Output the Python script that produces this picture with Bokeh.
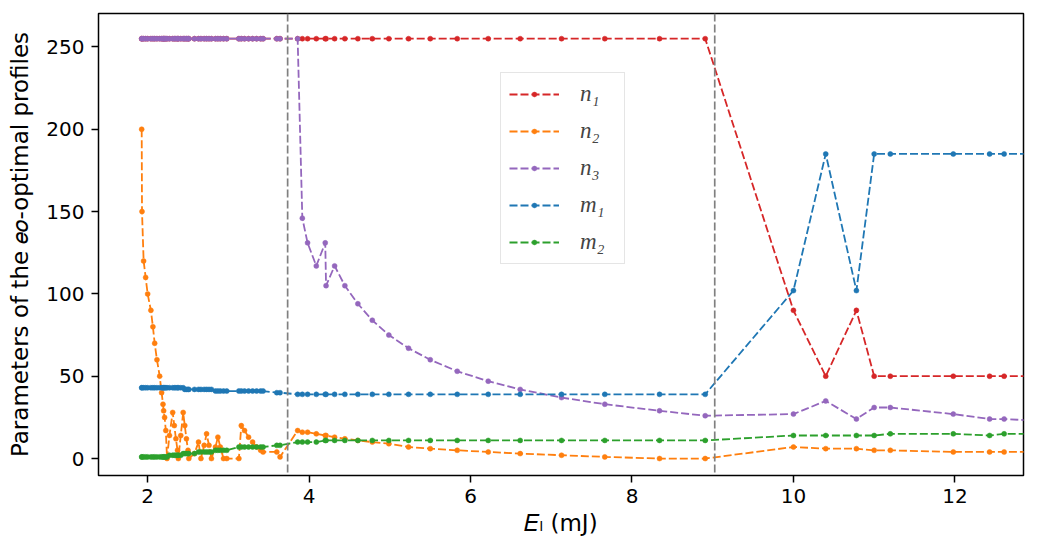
from bokeh.plotting import figure
from bokeh.models import Span, Legend, LegendItem, FixedTicker, Range1d
from bokeh.embed import file_html
from bokeh.resources import INLINE

# Laser pulse energy E_l (mJ) of each optimised profile
e_l = [
    1.926, 1.930, 1.950, 1.975, 2.000, 2.040, 2.065, 2.087, 2.115, 2.149,
    2.173, 2.190, 2.198, 2.210, 2.225, 2.240,
    2.27, 2.31, 2.33, 2.35, 2.37, 2.38, 2.41, 2.44, 2.46, 2.48, 2.50, 2.51,
    2.58, 2.63, 2.66, 2.70, 2.73, 2.76, 2.79, 2.84, 2.87, 2.90, 2.94, 2.98,
    3.13, 3.16, 3.20, 3.25, 3.30, 3.35, 3.40, 3.43,
    3.60, 3.64,
    3.858, 3.916, 3.981, 4.089, 4.200, 4.210, 4.316, 4.443, 4.604, 4.783,
    4.988, 5.232, 5.501, 5.835, 6.219, 6.615, 7.127, 7.663, 8.341, 8.907,
    10.0, 10.4, 10.78, 11.0, 11.2, 11.98, 12.43, 12.61, 13.0,
]

n1 = [
    255, 255, 255, 255, 255, 255, 255, 255, 255, 255,
    255, 255, 255, 255, 255, 255,
    255, 255, 255, 255, 255, 255, 255, 255, 255, 255, 255, 255,
    255, 255, 255, 255, 255, 255, 255, 255, 255, 255, 255, 255,
    255, 255, 255, 255, 255, 255, 255, 255,
    255, 255,
    255, 255, 255, 255, 255, 255, 255, 255, 255, 255,
    255, 255, 255, 255, 255, 255, 255, 255, 255, 255,
    90, 50, 90, 50, 50, 50, 50, 50, 50,
]

n2 = [
    200, 150, 120, 110, 100, 90, 80, 70, 60, 50,
    40, 33, 29, 25, 17, 0,
    14, 28, 20, 12, 5, 0, 14, 28, 20, 12, 5, 0,
    3, 10, 0, 8, 15, 8, 0, 7, 13, 7, 0, 0,
    0, 20, 17, 13, 10, 7, 5, 4,
    4, 1,
    17, 16, 16, 15, 14, 14, 13, 12, 11, 10,
    9, 7, 6, 5, 4, 3, 2, 1, 0, 0,
    7, 6, 6, 5, 5, 4, 4, 4, 4,
]

n3 = [
    255, 255, 255, 255, 255, 255, 255, 255, 255, 255,
    255, 255, 255, 255, 255, 255,
    255, 255, 255, 255, 255, 255, 255, 255, 255, 255, 255, 255,
    255, 255, 255, 255, 255, 255, 255, 255, 255, 255, 255, 255,
    255, 255, 255, 255, 255, 255, 255, 255,
    255, 255,
    255, 146, 131, 117, 131, 105, 117, 105, 94, 84,
    75, 67, 60, 53, 47, 42, 37, 33, 29, 26,
    27, 35, 24, 31, 31, 27, 24, 24, 23,
]

m1 = [
    43, 43, 43, 43, 43, 43, 43, 43, 43, 43,
    43, 43, 43, 43, 43, 43,
    43, 43, 43, 43, 43, 43, 43, 43, 42, 42, 42, 42,
    42, 42, 42, 42, 42, 42, 42, 41, 41, 41, 41, 41,
    41, 41, 41, 41, 41, 41, 41, 41,
    40, 40,
    39, 39, 39, 39, 39, 39, 39, 39, 39, 39,
    39, 39, 39, 39, 39, 39, 39, 39, 39, 39,
    102, 185, 102, 185, 185, 185, 185, 185, 185,
]

m2 = [
    1, 1, 1, 1, 1, 1, 1, 1, 1, 1,
    1, 1, 1, 1, 1, 1,
    2, 2, 2, 2, 2, 2, 2, 3, 3, 3, 3, 3,
    3, 4, 4, 4, 4, 4, 4, 5, 5, 5, 5, 5,
    7, 7, 7, 7, 7, 7, 7, 7,
    8, 8,
    10, 10, 10, 10, 11, 11, 11, 11, 11, 11,
    11, 11, 11, 11, 11, 11, 11, 11, 11, 11,
    14, 14, 14, 14, 15, 15, 14, 15, 15,
]

# Regime boundaries (mJ)
boundaries = [3.734, 9.025]

series = [
    ("n\u2081", n1, "#d62728"),
    ("n\u2082", n2, "#ff7f0e"),
    ("n\u2083", n3, "#9467bd"),
    ("m\u2081", m1, "#1f77b4"),
    ("m\u2082", m2, "#2ca02c"),
]

x_ticks = [2, 4, 6, 8, 10, 12]
y_ticks = [0, 50, 100, 150, 200, 250]

# axis titles; E, l and eo use the mathematical italic letters
x_title = "\U0001D438\u2097 (mJ)"
y_title = "Parameters of the \U0001D452\U0001D45C-optimal profiles"

LEFT, RIGHT, TOP, BOTTOM = 98, 1023, 13, 475
W, H = 1037, 552

p = figure(
    width=W, height=H,
    output_backend="svg", toolbar_location=None,
    x_range=Range1d(1.391, 12.85), y_range=Range1d(-10.3, 270.3),
    min_border_left=LEFT, min_border_right=W - RIGHT,
    min_border_top=TOP, min_border_bottom=H - BOTTOM,
)
p.background_fill_color = "white"
p.border_fill_color = "white"
p.grid.grid_line_color = None
p.outline_line_color = "black"
p.outline_line_width = 1.5
p.outline_line_alpha = 1.0

for ax in (p.xaxis[0], p.yaxis[0]):
    ax.axis_line_color = None
    ax.major_tick_line_color = "black"
    ax.major_tick_line_width = 1.5
    ax.major_tick_out = 7
    ax.major_tick_in = 0
    ax.minor_tick_line_color = None
    ax.major_label_text_font = "DejaVu Sans"
    ax.major_label_text_font_size = "20px"
    ax.major_label_text_color = "black"
    ax.axis_label_text_font = "DejaVu Sans"
    ax.axis_label_text_font_size = "23px"
    ax.axis_label_text_font_style = "normal"
    ax.axis_label_text_color = "black"
p.xaxis[0].ticker = FixedTicker(ticks=x_ticks)
p.yaxis[0].ticker = FixedTicker(ticks=y_ticks)
p.xaxis[0].major_label_standoff = 6
p.yaxis[0].major_label_standoff = 7
p.xaxis[0].axis_label = x_title
p.yaxis[0].axis_label = y_title
p.xaxis[0].axis_label_standoff = 4
p.yaxis[0].axis_label_standoff = 10

items = []
for label, values, color in series:
    ln = p.line(e_l, values, line_color=color, line_width=1.8, line_dash="8 3")
    dots = p.scatter(e_l, values, size=5, fill_color=color, line_color=color, line_width=0.5)
    items.append(LegendItem(label=label, renderers=[ln, dots]))

for xb in boundaries:
    p.add_layout(Span(location=xb, dimension="height", line_color="#808080",
                      line_width=1.7, line_dash="8 3"))

legend = Legend(items=items, location=(402, 211))
legend.label_text_font = "Liberation Serif"
legend.label_text_font_style = "italic"
legend.label_text_font_size = "23px"
legend.glyph_width = 50
legend.glyph_height = 12
legend.label_height = 20
legend.label_width = 36
legend.label_standoff = 21
legend.spacing = 11
legend.padding = 8
legend.margin = 0
legend.border_line_color = "#cccccc"
legend.border_line_width = 1.2
legend.background_fill_color = "white"
legend.background_fill_alpha = 0.8
p.add_layout(legend, "center")

open("out.html", "w").write(file_html(p, INLINE))
